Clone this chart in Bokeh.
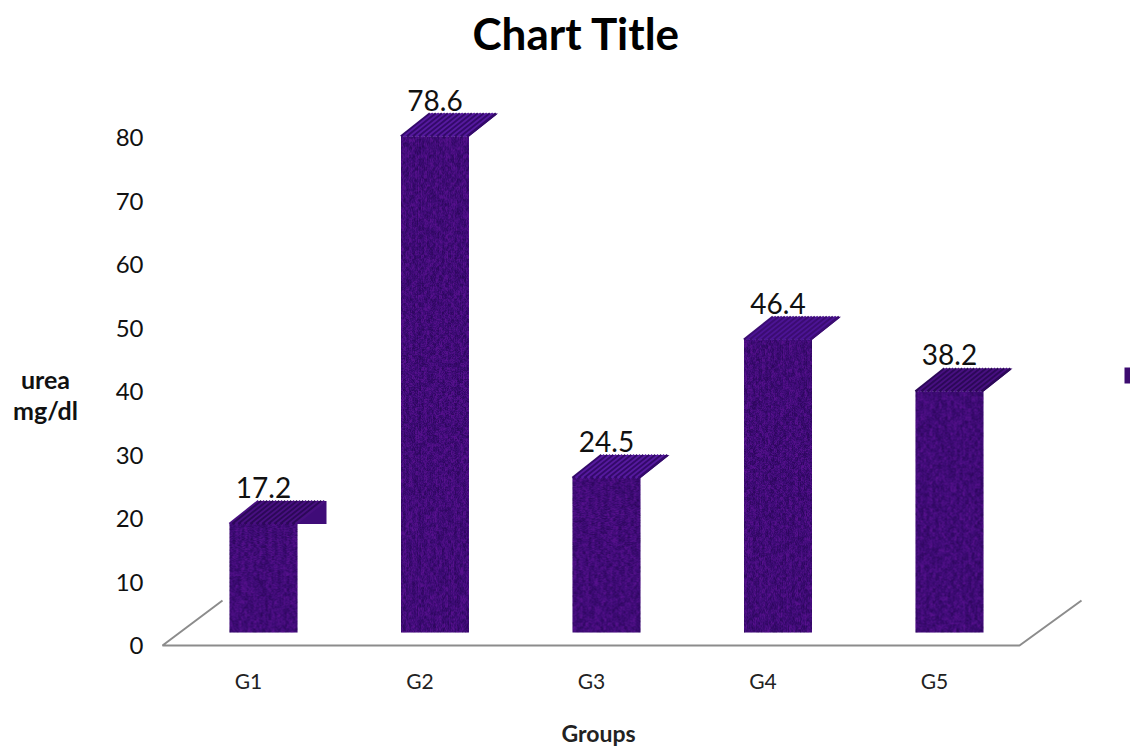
from bokeh.embed import file_html
from bokeh.resources import INLINE
from bokeh.plotting import figure
from bokeh.models import Range1d, FixedTicker, Title, Label
from bokeh.core.properties import value
import numpy as np

groups = ["G1", "G2", "G3", "G4", "G5"]
urea = [17.2, 78.6, 24.5, 46.4, 38.2]
y_ticks = [0, 10, 20, 30, 40, 50, 60, 70, 80]

FONT = "Lato"
PURPLE = "#3f0c78"
STRIPES = ["#33096a", "#4c1494", "#2c0858", "#561a9e", "#3b0c72", "#481080"]
GREY = "#8c8c8c"

W, H = 1130, 748
LEFT, RIGHT, TOP, BOTTOM = 0, 1130, 60, 748
STEP = 171.5

# axis scales: category labels and value ticks
def ax_x(px):
    return (px - 248) / STEP

def ax_y(py):
    return (645 - py) / 6.35

p = figure(width=W, height=H, output_backend="svg", toolbar_location=None,
           x_range=Range1d(ax_x(LEFT), ax_x(RIGHT)),
           y_range=Range1d(ax_y(BOTTOM), ax_y(TOP)),
           min_border_left=0, min_border_right=0, min_border_top=TOP,
           min_border_bottom=0, outline_line_color=None,
           background_fill_color="white", border_fill_color="white")
p.grid.visible = False

# the columns sit on a raised floor, so they get their own scale
BAR_K = 6.31
BAR_X0, BAR_Y0 = 263, 632
p.extra_x_ranges["bars"] = Range1d((LEFT - BAR_X0) / STEP, (RIGHT - BAR_X0) / STEP)
p.extra_y_ranges["bars"] = Range1d((BAR_Y0 - BOTTOM) / BAR_K, (BAR_Y0 - TOP) / BAR_K)

HALF = 34 / STEP
DX = 29 / STEP
DY = 23 / BAR_K

# floor outline
p.line([ax_x(222), ax_x(162), ax_x(1019), ax_x(1081)],
       [ax_y(600), ax_y(645), ax_y(645), ax_y(600)],
       line_color=GREY, line_width=2)

# front faces
xs = np.arange(len(urea), dtype=float)
vals = np.array(urea)
p.quad(left=xs - HALF, right=xs + HALF, bottom=0, top=vals,
       x_range_name="bars", y_range_name="bars",
       fill_color=PURPLE, line_color=None)

# woven texture over each front face, generated from an integer hash
def weave(h, w, seed):
    yy, xx = np.mgrid[0:h, 0:w]
    xx = xx + seed * 37
    yy = yy + seed * 11
    fine = ((xx * 7919 + yy * 104729) ^ (xx * yy * 31 + xx * xx * 17)) % 251 / 250.0
    cols = ((xx * 2971) ^ (xx * xx * 13)) % 97 / 96.0
    rows = ((yy // 4 * 1543 + xx // 3 * 769) ^ (yy // 4 * 53)) % 89 / 88.0
    mix = 0.5 * fine + 0.15 * cols + 0.35 * rows
    img = np.zeros((h, w), dtype=np.uint32)
    view = img.view(dtype=np.uint8).reshape((h, w, 4))
    dark = mix < 0.5
    view[..., 0] = np.where(dark, 24, 120)
    view[..., 1] = np.where(dark, 0, 24)
    view[..., 2] = np.where(dark, 60, 170)
    view[..., 3] = np.clip(np.abs(mix - 0.5) * 2 * 170, 0, 110).astype(np.uint8)
    return img

for i, (x, v) in enumerate(zip(xs, urea)):
    h_px = max(int(round(v * BAR_K)), 1)
    p.image_rgba(image=[weave(h_px, 68, i)], x=[x - HALF], y=[0], dw=[2 * HALF], dh=[v],
                 x_range_name="bars", y_range_name="bars")

# top faces, with the short projecting block on the first column
top_xs, top_ys = [], []
for i, (x, v) in enumerate(zip(xs, urea)):
    l, r = x - HALF, x + HALF
    if i == 0:
        top_xs.append([l, l + DX, r + DX, r + DX, r])
        top_ys.append([v, v + DY, v + DY, v, v])
    else:
        top_xs.append([l, l + DX, r + DX, r])
        top_ys.append([v, v + DY, v + DY, v])
p.patches(top_xs, top_ys, x_range_name="bars", y_range_name="bars",
          fill_color=PURPLE, line_color=None)

# slanted streaks across the top faces
offsets = np.arange(0, 68, 3)
for x, v in zip(xs, urea):
    sx = [[x - HALF + o / STEP, x - HALF + o / STEP + DX] for o in offsets]
    sy = [[v, v + DY] for _ in offsets]
    c = [STRIPES[(int(o) * 5 + int(v)) % len(STRIPES)] for o in offsets]
    p.multi_line(sx, sy, line_color=c, line_width=2.5,
                 x_range_name="bars", y_range_name="bars")

# value labels above the columns
p.text(xs, vals + DY, text=[f"{v:.1f}" for v in urea],
       x_range_name="bars", y_range_name="bars",
       text_font=value(FONT), text_font_size="28px", text_color="#111111",
       text_align="center", text_baseline="bottom", y_offset=-3)

# clipped legend key at the right edge
p.quad(left=[ax_x(1124)], right=[ax_x(1131)], bottom=[ax_y(383)], top=[ax_y(367)],
       fill_color="#3d0c70", line_color=None)

# both axes are pinned inside the frame, next to the floor
xaxis = p.xaxis[0]
xaxis.fixed_location = ax_y(645)
xaxis.ticker = FixedTicker(ticks=list(range(len(groups))))
xaxis.major_label_overrides = {i: g for i, g in enumerate(groups)}
xaxis.axis_line_color = None
xaxis.major_tick_line_color = None
xaxis.minor_tick_line_color = None
xaxis.major_tick_out = 0
xaxis.major_label_text_font = FONT
xaxis.major_label_text_font_size = "21px"
xaxis.major_label_text_color = "#222222"
xaxis.major_label_standoff = 22

yaxis = p.yaxis[0]
yaxis.fixed_location = ax_x(150)
yaxis.ticker = FixedTicker(ticks=y_ticks)
yaxis.axis_line_color = None
yaxis.major_tick_line_color = None
yaxis.minor_tick_line_color = None
yaxis.major_tick_out = 0
yaxis.major_label_text_font = FONT
yaxis.major_label_text_font_size = "24px"
yaxis.major_label_text_color = "#111111"
yaxis.major_label_standoff = 7

# axis titles sit off-centre from the plot frame
p.add_layout(Label(x=ax_x(598), y=ax_y(732), text="Groups",
                   text_font=FONT, text_font_size="23px", text_font_style="bold",
                   text_color="#222222", text_align="center", text_baseline="middle"))
p.add_layout(Label(x=ax_x(45), y=ax_y(394), text="urea\nmg/dl",
                   text_font=FONT, text_font_size="25px", text_font_style="bold",
                   text_line_height=1.05,
                   text_color="#111111", text_align="center", text_baseline="middle"))

title = Title(text="Chart Title", align="left", offset=472,
              text_font=FONT, text_font_size="44px", text_font_style="bold",
              text_color="#000000", standoff=4)
p.add_layout(title, "above")

open("out.html", "w").write(file_html(p, INLINE))
